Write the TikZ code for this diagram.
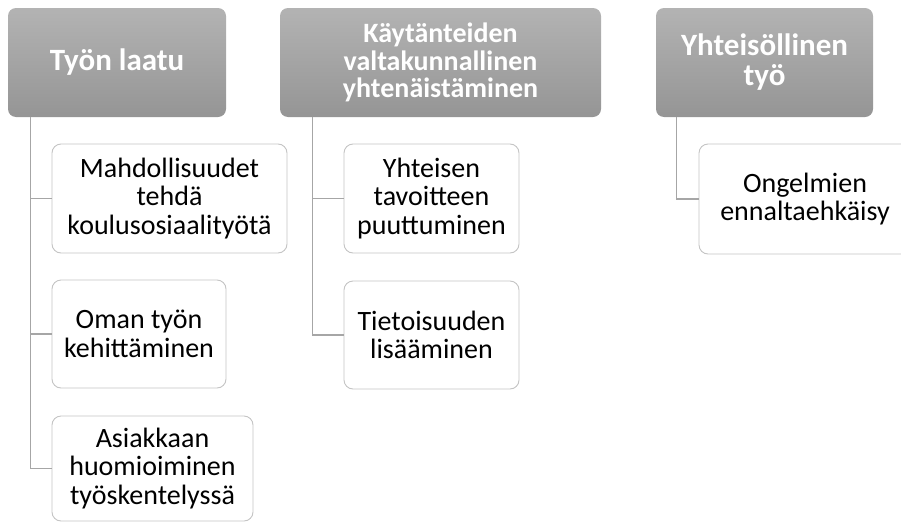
\documentclass[tikz,border=0pt]{standalone}
\usepackage{fontspec}
\setmainfont{Carlito}
\usepackage{xcolor}
\usetikzlibrary{positioning}

\definecolor{headtop}{HTML}{B3B3B3}
\definecolor{headbot}{HTML}{959595}
\definecolor{itemdraw}{HTML}{C4C4C4}
\definecolor{conndraw}{HTML}{A6A6A6}

\begin{document}
\begin{tikzpicture}[
    x=1pt, y=-1pt,
    head/.style  = {rectangle, rounded corners=8pt, draw=none,
                    top color=headtop, bottom color=headbot,
                    minimum height=109pt, inner sep=2pt,
                    align=center, text=white},
    item/.style  = {draw=itemdraw, line width=0.9pt, fill=white,
                    rectangle, rounded corners=9pt,
                    minimum height=109pt, inner sep=2pt,
                    align=center, font=\fontsize{28}{28.5}\selectfont},
    conn/.style  = {draw=conndraw, line width=1.2pt},
]

    \useasboundingbox (0,0) rectangle (901,522);

    % -- Otsikot --
    \node[head, minimum width=218pt, font=\fontsize{31}{30}\selectfont\bfseries] (laatu) at (117,62.5) {Ty\"on laatu};
    \node[head, minimum width=321pt, font=\fontsize{28}{27.5}\selectfont\bfseries] (kaytanteet) at (440.5,62.5) {K\"ayt\"anteiden\\valtakunnallinen\\yhten\"aist\"aminen};
    \node[head, minimum width=217pt, font=\fontsize{31}{30}\selectfont\bfseries] (yhteis) at (764.5,62.5) {Yhteis\"ollinen\\ty\"o};

    % -- Ty\"on laatu --
    \node[item, minimum width=235pt] (mahd) at (169.5,198.5) {Mahdollisuudet\\tehd\"a\\koulusosiaality\"ot\"a};
    \node[item, minimum width=174pt, minimum height=108pt] (oman) at (139,334) {Oman ty\"on\\kehitt\"aminen};
    \node[item, minimum width=201pt, minimum height=105pt] (asiak) at (152.5,468.5) {Asiakkaan\\huomioiminen\\ty\"oskentelyss\"a};

    % -- K\"ayt\"anteet --
    \node[item, minimum width=175pt] (tavoite) at (431.5,198.5) {Yhteisen\\tavoitteen\\puuttuminen};
    \node[item, minimum width=175pt, minimum height=108pt] (tieto) at (431.5,335) {Tietoisuuden\\lis\"a\"aminen};

    % -- Yhteis\"ollinen ty\"o --
    \node[item, minimum width=212pt, minimum height=110pt] (ongelma) at (805,199) {Ongelmien\\ennaltaehk\"aisy};

    % -- Yhteydet --
    \draw[conn] (laatu.south west) ++(23,0) |- (mahd.west);
    \draw[conn] (laatu.south west) ++(23,0) |- (oman.west);
    \draw[conn] (laatu.south west) ++(23,0) |- (asiak.west);
    \draw[conn] (kaytanteet.south west) ++(33,0) |- (tavoite.west);
    \draw[conn] (kaytanteet.south west) ++(33,0) |- (tieto.west);
    \draw[conn] (yhteis.south west) ++(21,0) |- (ongelma.west);

\end{tikzpicture}
\end{document}
